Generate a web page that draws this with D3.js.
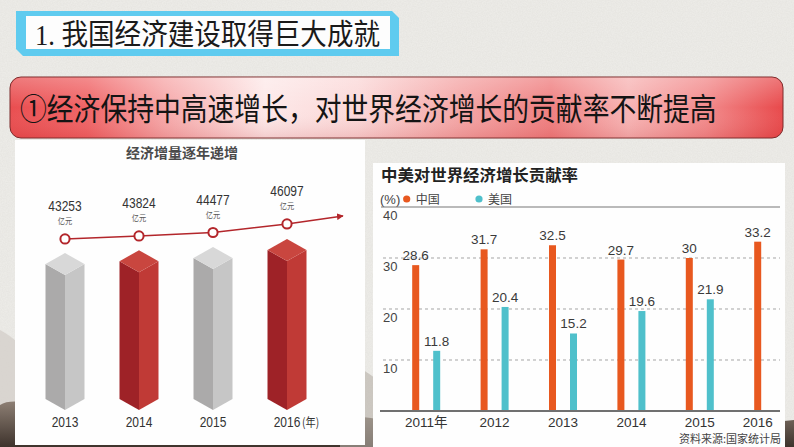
<!DOCTYPE html>
<html><head><meta charset="utf-8">
<script src="https://cdn.jsdelivr.net/npm/d3@7"></script>
<style>html,body{margin:0;padding:0;background:#ecebe7;overflow:hidden}</style>
</head><body><svg id="c" width="794" height="447"></svg>
<script>
// ---------- data ----------
const titleText = "1. 我国经济建设取得巨大成就";
const bannerText = "①经济保持中高速增长，对世界经济增长的贡献率不断提高";
const leftTitle = "经济增量逐年递增";
const gdpYears = ["2013", "2014", "2015", "2016"];
const gdpValues = [43253, 43824, 44477, 46097];
const gdpUnit = "亿元";
const gdpYearSuffix = "(年)";
const gdpBarKinds = ["gray", "red", "gray", "red"];
const rightTitle = "中美对世界经济增长贡献率";
const rateYears = ["2011年", "2012", "2013", "2014", "2015", "2016"];
const chinaRate = [28.6, 31.7, 32.5, 29.7, 30, 33.2];
const usRate = [11.8, 20.4, 15.2, 19.6, 21.9, null];
const rateTicks = [10, 20, 30, 40];
const seriesNames = ["中国", "美国"];
const unitLabel = "(%)";
const sourceText = "资料来源:国家统计局";

// ---------- setup ----------
const svg = d3.select("#c");
const CJK = "'Noto Sans CJK SC','Noto Sans',sans-serif";
const SANS = "'Liberation Sans',Arial,'Noto Sans CJK SC',sans-serif";
const defs = svg.append("defs");

// background texture
const f = defs.append("filter").attr("id", "noise").attr("x", 0).attr("y", 0).attr("width", "100%").attr("height", "100%");
f.append("feTurbulence").attr("type", "fractalNoise").attr("baseFrequency", 0.8).attr("numOctaves", 2).attr("seed", 3);
f.append("feColorMatrix").attr("type", "matrix")
  .attr("values", "0 0 0 0 0.45  0 0 0 0 0.43  0 0 0 0 0.40  0 0 0 0.35 -0.1");
svg.append("rect").attr("width", 794).attr("height", 447).attr("fill", "#ecebe7");
svg.append("rect").attr("width", 794).attr("height", 447).attr("filter", "url(#noise)").attr("opacity", 0.5);

// ink-wash hills at the bottom (decorative)
const hg = defs.append("linearGradient").attr("id", "hill").attr("x1", 0).attr("y1", 0).attr("x2", 0).attr("y2", 1);
hg.append("stop").attr("offset", 0).attr("stop-color", "#8d7f74");
hg.append("stop").attr("offset", 1).attr("stop-color", "#3e332c");
svg.append("path").attr("d", "M0,330 C20,340 30,360 60,370 L60,447 L0,447 Z").attr("fill", "#d4d0cb").attr("opacity", 0.8);
svg.append("path").attr("d", "M0,405 C10,398 30,402 60,410 C200,430 330,400 400,425 C500,440 700,430 794,420 L794,447 L0,447 Z").attr("fill", "url(#hill)");
svg.append("path").attr("d", "M340,360 C360,365 380,380 400,400 L400,447 L340,447 Z").attr("fill", "#b8b0a8").attr("opacity", 0.6);

// ---------- title box ----------
svg.append("path").attr("d", "M16,11 L392,11 L399,18 L399,56 L23,56 L16,49 Z").attr("fill", "#5fcbef");
svg.append("rect").attr("x", 26).attr("y", 16).attr("width", 364).attr("height", 33).attr("fill", "#fdfdfd");
svg.append("text").attr("x", 35).attr("y", 45).attr("textLength", 345).attr("lengthAdjust", "spacingAndGlyphs")
  .attr("font-family", "'Liberation Serif','Noto Sans CJK SC',serif").attr("font-size", 29).attr("fill", "#1a1a1a")
  .text(titleText);

// ---------- banner ----------
const bg = defs.append("linearGradient").attr("id", "ban").attr("x1", 0).attr("x2", 1).attr("y1", 0).attr("y2", 0);
[[0, "#e94e50"], [0.1, "#f06466"], [0.2, "#f6a7a8"], [0.33, "#fde9e9"], [0.45, "#fbd8d8"], [0.58, "#f4a6a6"],
 [0.7, "#ef7f80"], [0.8, "#f7b4b4"], [0.9, "#f28a8b"], [1, "#e8494b"]]
  .forEach(([o, c]) => bg.append("stop").attr("offset", o).attr("stop-color", c));
const bv = defs.append("linearGradient").attr("id", "banv").attr("x1", 0).attr("x2", 0).attr("y1", 0).attr("y2", 1);
bv.append("stop").attr("offset", 0).attr("stop-color", "#fff").attr("stop-opacity", 0.25);
bv.append("stop").attr("offset", 0.5).attr("stop-color", "#fff").attr("stop-opacity", 0);
bv.append("stop").attr("offset", 1).attr("stop-color", "#a00").attr("stop-opacity", 0.12);
svg.append("rect").attr("x", 10).attr("y", 77).attr("width", 773).attr("height", 61).attr("rx", 11)
  .attr("fill", "url(#ban)").attr("stroke", "#7a2a2a").attr("stroke-width", 1);
svg.append("rect").attr("x", 10.5).attr("y", 77.5).attr("width", 772).attr("height", 60).attr("rx", 11)
  .attr("fill", "url(#banv)");
svg.append("text").attr("transform", "translate(20,120) scale(1,1.16)")
  .attr("font-family", CJK).attr("font-size", 26.8).attr("fill", "#141414").text(bannerText);

// ---------- left chart ----------
svg.append("rect").attr("x", 15).attr("y", 140).attr("width", 350).attr("height", 305).attr("fill", "#fefefe");
svg.append("text").attr("x", 182).attr("y", 158).attr("text-anchor", "middle").attr("font-family", CJK)
  .attr("font-weight", 700).attr("font-size", 14).attr("fill", "#4a4a4a").text(leftTitle);

const xL = d3.scalePoint().domain(gdpYears).range([65, 287]);
const yTop = d3.scaleLinear().domain([43000, 46500]).range([254.3, 237]);
const yDot = d3.scaleLinear().domain([43000, 46500]).range([240.3, 221.8]);
const barBottom = 399, hw = 19.5, dy = 11;
const palette = {
  gray: { left: "#abaaaa", right: "#c6c6c6", top: "#d8d8d8" },
  red: { left: "#9e2227", right: "#c03a36", top: "#c9463f" }
};
const gdp = gdpYears.map((y, i) => ({ year: y, value: gdpValues[i], kind: gdpBarKinds[i] }));
const bars = svg.append("g").selectAll("g").data(gdp).join("g");
const pts = a => a.map(p => p.join(",")).join(" ");
bars.append("polygon").attr("fill", d => palette[d.kind].left).attr("points", d => {
  const x = xL(d.year), T = yTop(d.value);
  return pts([[x - hw, T + dy], [x, T + 2 * dy], [x, barBottom + dy], [x - hw, barBottom]]);
});
bars.append("polygon").attr("fill", d => palette[d.kind].right).attr("points", d => {
  const x = xL(d.year), T = yTop(d.value);
  return pts([[x, T + 2 * dy], [x + hw, T + dy], [x + hw, barBottom], [x, barBottom + dy]]);
});
bars.append("polygon").attr("fill", d => palette[d.kind].top).attr("points", d => {
  const x = xL(d.year), T = yTop(d.value);
  return pts([[x, T], [x + hw, T + dy], [x, T + 2 * dy], [x - hw, T + dy]]);
});

// trend line with arrow
defs.append("marker").attr("id", "arr").attr("viewBox", "0 0 10 10").attr("refX", 9).attr("refY", 5)
  .attr("markerWidth", 4.2).attr("markerHeight", 4.2).attr("orient", "auto")
  .append("path").attr("d", "M0,0 L10,5 L0,10 Z").attr("fill", "#b3262b");
const linePts = gdp.map(d => [xL(d.year), yDot(d.value)]);
const last = linePts[linePts.length - 1];
linePts.push([last[0] + 56, last[1] - 8]);
svg.append("path").attr("d", d3.line()(linePts)).attr("fill", "none").attr("stroke", "#b3262b")
  .attr("stroke-width", 1.6).attr("marker-end", "url(#arr)");
svg.append("g").selectAll("circle").data(gdp).join("circle")
  .attr("cx", d => xL(d.year)).attr("cy", d => yDot(d.value)).attr("r", 4.6)
  .attr("fill", "#fff").attr("stroke", "#b3262b").attr("stroke-width", 2);

// value labels
const vl = svg.append("g").selectAll("g").data(gdp).join("g");
vl.append("text").attr("transform", d => `translate(${xL(d.year)},${yDot(d.value) - 27.5}) scale(0.8,1)`)
  .attr("text-anchor", "middle").attr("font-family", SANS).attr("font-size", 15).attr("fill", "#333")
  .text(d => d.value);
vl.append("text").attr("transform", d => `translate(${xL(d.year)},${yDot(d.value) - 14.5}) scale(0.85,1)`)
  .attr("text-anchor", "middle").attr("font-family", CJK).attr("font-size", 8.5).attr("fill", "#555")
  .text(gdpUnit);

// year labels
svg.append("g").selectAll("text").data(gdp).join("text")
  .attr("transform", d => `translate(${xL(d.year)},427) scale(0.8,1)`)
  .attr("text-anchor", "middle").attr("font-family", SANS).attr("font-size", 15).attr("fill", "#333")
  .text(d => d.year);
svg.append("text").attr("transform", `translate(${xL(gdpYears[gdpYears.length - 1]) + 15},427) scale(0.85,1)`)
  .attr("font-family", CJK).attr("font-size", 12).attr("fill", "#333").text(gdpYearSuffix);

// ---------- right chart ----------
svg.append("rect").attr("x", 373).attr("y", 163).attr("width", 412).attr("height", 284).attr("fill", "#fefefe");
svg.append("text").attr("x", 381).attr("y", 181).attr("textLength", 197).attr("lengthAdjust", "spacingAndGlyphs")
  .attr("font-family", CJK).attr("font-weight", 700).attr("font-size", 16).attr("fill", "#222").text(rightTitle);

const colChina = "#e8581f", colUS = "#4fc0cb";
svg.append("text").attr("x", 380).attr("y", 203.5).attr("font-family", SANS).attr("font-size", 13)
  .attr("fill", "#444").text(unitLabel);
const legX = [406.7, 479];
const leg = svg.append("g").selectAll("g").data(seriesNames).join("g");
leg.append("circle").attr("cx", (d, i) => legX[i]).attr("cy", 199).attr("r", 3.6)
  .attr("fill", (d, i) => i === 0 ? colChina : colUS);
leg.append("text").attr("x", (d, i) => legX[i] + 9).attr("y", 203.5).attr("font-family", CJK)
  .attr("font-size", 12).attr("fill", "#444").text(d => d);

const xg = d3.scalePoint().domain(rateYears).range([426.2, 768.2]);
const yR = d3.scaleLinear().domain([0, 40]).range([411, 207]);
const gx0 = 381, gx1 = 780;
svg.append("g").selectAll("line").data(rateTicks).join("line")
  .attr("x1", d => d === 40 ? gx0 : 383).attr("x2", gx1).attr("y1", d => yR(d)).attr("y2", d => yR(d))
  .attr("stroke", d => d === 40 ? "#777" : "#a5a5a5").attr("stroke-width", 1)
  .attr("stroke-dasharray", d => d === 40 ? null : "3,3");
svg.append("g").selectAll("text").data(rateTicks).join("text")
  .attr("x", 383).attr("y", d => yR(d) + 13).attr("font-family", SANS).attr("font-size", 13)
  .attr("fill", "#444").text(d => d);

const groups = rateYears.map((y, i) => ({ year: y, china: chinaRate[i], us: usRate[i] }));
const off = 10.5, bw = 7;
const chinaBars = groups.filter(d => d.china != null);
const usBars = groups.filter(d => d.us != null);
svg.append("g").selectAll("rect").data(chinaBars).join("rect")
  .attr("x", d => xg(d.year) - off - bw / 2).attr("width", bw)
  .attr("y", d => yR(d.china)).attr("height", d => yR(0) - yR(d.china)).attr("fill", colChina);
svg.append("g").selectAll("rect").data(usBars).join("rect")
  .attr("x", d => xg(d.year) + off - bw / 2).attr("width", bw)
  .attr("y", d => yR(d.us)).attr("height", d => yR(0) - yR(d.us)).attr("fill", colUS);
svg.append("line").attr("x1", 380).attr("x2", gx1).attr("y1", yR(0)).attr("y2", yR(0))
  .attr("stroke", "#707070").attr("stroke-width", 2);

svg.append("g").selectAll("text").data(chinaBars).join("text")
  .attr("x", d => xg(d.year) - off).attr("y", d => yR(d.china) - 5).attr("text-anchor", "middle")
  .attr("font-family", SANS).attr("font-size", 13.5).attr("fill", "#3a3a3a").text(d => d.china);
svg.append("g").selectAll("text").data(usBars).join("text")
  .attr("x", d => xg(d.year) + off).attr("y", d => yR(d.us) - 5).attr("text-anchor", "middle")
  .attr("font-family", SANS).attr("font-size", 13.5).attr("fill", "#3a3a3a").text(d => d.us);

// year labels centred on the bars present
svg.append("g").selectAll("text").data(groups).join("text")
  .attr("x", d => {
    const xs = [];
    if (d.china != null) xs.push(xg(d.year) - off);
    if (d.us != null) xs.push(xg(d.year) + off);
    return d3.mean(xs);
  })
  .attr("y", 427).attr("text-anchor", "middle").attr("font-family", SANS).attr("font-size", 13.5)
  .attr("fill", "#333").text(d => d.year);

svg.append("text").attr("x", 781).attr("y", 443).attr("text-anchor", "end").attr("font-family", CJK)
  .attr("font-size", 11).attr("fill", "#444").text(sourceText);
</script></body></html>
